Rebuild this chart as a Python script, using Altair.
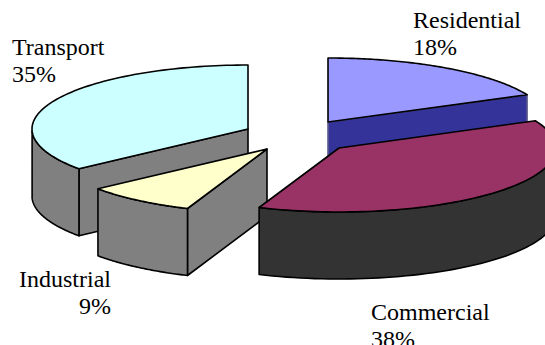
import numpy as np
import altair as alt

# Shares of energy use, clockwise from twelve o'clock
sectors = ["Residential", "Commercial", "Industrial", "Transport"]
shares = [18, 38, 9, 35]
label_lines = {
    "Residential": ["Residential", "18%"],
    "Commercial": ["Commercial", "38%"],
    "Transport": ["Transport", "35%"],
    "Industrial": ["Industrial", "9%"],
}

# Pie drawing setup: exploded wedge apex (px) and horizontal radius
apex = {
    "Residential": (328, 122, 220),
    "Commercial": (339, 148, 217),
    "Transport": (248, 129, 216),
    "Industrial": (267, 149, 216),
}
RY = 64
DEPTH = 67
top_colors = {
    "Residential": "#9999FF",
    "Commercial": "#993366",
    "Transport": "#CCFFFF",
    "Industrial": "#FFFFCC",
}
side_colors = {
    "Residential": "#333399",
    "Commercial": "#333333",
    "Transport": "#808080",
    "Industrial": "#808080",
}
# Back-to-front painting order of the wedges
paint_order = ["Transport", "Residential", "Industrial", "Commercial"]
# Which straight cut of each wedge faces the viewer: 0 start, 1 end
visible_cut = {"Residential": 1, "Transport": 0, "Industrial": 0}

# Label placement: left/right anchor x, first baseline y, alignment
label_place = {
    "Residential": (413, 28, "left"),
    "Commercial": (371, 320, "left"),
    "Transport": (12, 55, "left"),
    "Industrial": (111, 287, "right"),
}
FONT_SIZE = 24
LINE_STEP = 27


def foreshorten(deg):
    # The 3-D view compresses the angle slightly on the lower left
    return np.interp(deg, [0, 201.6, 234, 360], [0, 201.6, 231.5, 360])


def rim(name, deg, drop=0):
    cx, cy, rx = apex[name]
    t = np.radians(foreshorten(np.asarray(deg, dtype=float)))
    return np.column_stack([cx + rx * np.sin(t), cy - RY * np.cos(t) + drop])


def feature(points, face, edge):
    ring = [[float(x), float(y)] for x, y in points]
    ring.append(ring[0])
    return {
        "type": "Feature",
        "geometry": {"type": "Polygon", "coordinates": [ring]},
        "properties": {"face": face, "edge": edge},
    }


bounds = np.cumsum([0] + shares) * 3.6
spans = {s: (bounds[i], bounds[i + 1]) for i, s in enumerate(sectors)}

features = []
for name in paint_order:
    a0, a1 = spans[name]
    cx, cy, _ = apex[name]
    side = side_colors[name]
    edge = "#5a5a8a" if name == "Residential" else "#000000"
    if name in visible_cut:
        p = rim(name, [(a0, a1)[visible_cut[name]]])[0]
        features.append(
            feature([(cx, cy), p, (p[0], p[1] + DEPTH), (cx, cy + DEPTH)], side, edge)
        )
    # Curved outer wall on the front half of the ellipse
    lo, hi = max(a0, 90), min(a1, 270)
    if lo < hi:
        arc = np.linspace(lo, hi, 60)
        features.append(
            feature(np.vstack([rim(name, arc), rim(name, arc[::-1], DEPTH)]), side, "#000000")
        )
    arc = np.linspace(a0, a1, 90)
    features.append(
        feature(np.vstack([[(cx, cy)], rim(name, arc)]), top_colors[name], "#000000")
    )

faces = sorted({f["properties"]["face"] for f in features})
edges = sorted({f["properties"]["edge"] for f in features})

pie = (
    alt.Chart(alt.Data(values=features))
    .mark_geoshape(strokeWidth=1.6, strokeJoin="round", clip=True)
    .encode(
        fill=alt.Fill("properties.face:N", scale=alt.Scale(domain=faces, range=faces), legend=None),
        stroke=alt.Stroke("properties.edge:N", scale=alt.Scale(domain=edges, range=edges), legend=None),
    )
    .project(type="identity", scale=1, translate=[0, 0])
)

layers = [pie]
for name in sectors:
    x0, y0, align = label_place[name]
    for i, line in enumerate(label_lines[name]):
        layers.append(
            alt.Chart(alt.Data(values=[{"t": line}]))
            .mark_text(
                font="Liberation Serif",
                fontSize=FONT_SIZE,
                color="#000000",
                align=align,
                baseline="alphabetic",
            )
            .encode(text="t:N", x=alt.value(x0), y=alt.value(y0 + i * LINE_STEP))
        )

chart = (
    alt.layer(*layers)
    .properties(width=545, height=345, padding=0, background="#FFFFFF", autosize=alt.AutoSizeParams(type="none"))
    .configure_view(stroke=None)
)

chart.save("out.html", embed_options={"renderer": "svg", "actions": False})
